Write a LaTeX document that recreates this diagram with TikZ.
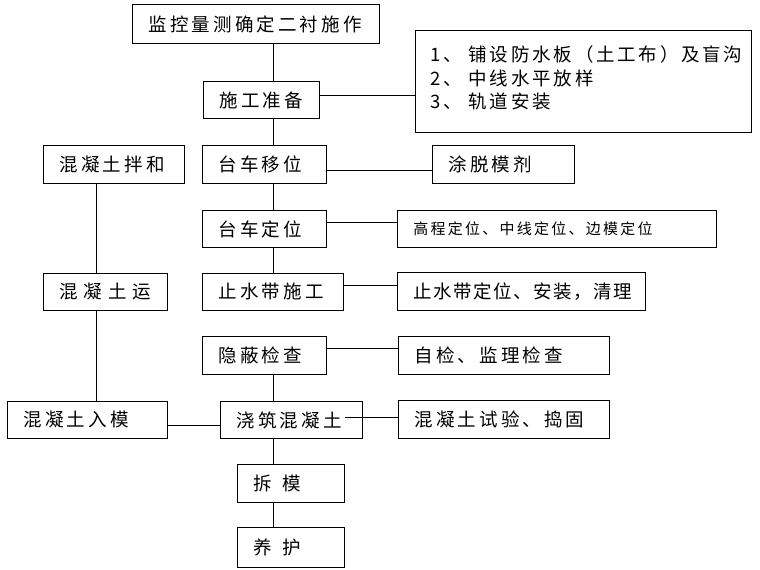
\documentclass[tikz,border=0pt]{standalone}
\usepackage{fontspec}
\newfontfamily\cjk[LetterSpace=17]{Noto Sans CJK SC}
\newfontfamily\cjkl[LetterSpace=15]{Noto Sans CJK SC}
\newfontfamily\cjkn[LetterSpace=8]{Noto Sans CJK SC}
\newfontfamily\cjks[LetterSpace=15]{Noto Sans CJK SC}
\begin{document}
\begin{tikzpicture}[x=1pt,y=-1pt,
  box/.style={draw, line width=0.9pt, anchor=north west, inner xsep=16pt, inner ysep=0pt, align=left,
    font=\cjk\fontsize{18.5}{23}\selectfont},
  narrowbox/.style={box, font=\cjkn\fontsize{18.5}{23}\selectfont},
  smallbox/.style={box, font=\cjks\fontsize{15}{18}\selectfont},
  conn/.style={line width=0.8pt}]
\fill[white] (0,0) rectangle (760,570);
\useasboundingbox (0,0) rectangle (760,570);
% main column
\node[box, minimum width=247pt, minimum height=39pt, text width=215pt] (top) at (132,4) {\mbox{监控量测确定二衬施作}};
\node[box, minimum width=116pt, minimum height=37pt, text width=84pt] (prep) at (203,81) {\mbox{施工准备}};
\node[box, minimum width=124pt, minimum height=38pt, text width=92pt] (tcyw) at (202,145) {\mbox{台车移位}};
\node[box, minimum width=124pt, minimum height=37pt, text width=92pt] (tcdw) at (202,210) {\mbox{台车定位}};
\node[box, minimum width=141pt, minimum height=37pt, text width=109pt] (zsd) at (202,273) {\mbox{止水带施工}};
\node[box, minimum width=124pt, minimum height=38pt, text width=92pt] (yb) at (202,336) {\mbox{隐蔽检查}};
\node[box, minimum width=142pt, minimum height=37pt, text width=110pt] (jz) at (220,401) {\mbox{浇筑混凝土}};
\node[box, minimum width=107pt, minimum height=38pt, text width=75pt] (cm) at (237,464) {\spaceskip=11pt\mbox{拆 模}};
\node[box, minimum width=107pt, minimum height=40pt, text width=75pt] (yh) at (237,527) {\spaceskip=11pt\mbox{养 护}};
% left column
\node[box, minimum width=141pt, minimum height=38pt, text width=109pt] (mix) at (43,145) {\mbox{混凝土拌和}};
\node[box, minimum width=124pt, minimum height=37pt, text width=92pt] (yun) at (43,273) {\spaceskip=6pt\mbox{混 凝 土 运}};
\node[box, minimum width=160pt, minimum height=37pt, text width=128pt] (rm) at (7,401) {\mbox{混凝土入模}};
% right column
\node[draw, line width=0.9pt, anchor=north west, minimum width=336pt, minimum height=102pt, inner sep=0pt] (list) at (415,30) {};
\node[anchor=north west, inner sep=0pt, align=left, font=\cjkl\fontsize{18.5}{23.5}\selectfont] (listtext) at (430,45.5)
  {1、 铺设防水板（土工布）及盲沟\\2、 中线水平放样\\3、 轨道安装};
\node[box, minimum width=142pt, minimum height=38pt, text width=110pt] (tuo) at (432,145) {\mbox{涂脱模剂}};
\node[smallbox, minimum width=319pt, minimum height=37pt, text width=287pt] (gc) at (397,210) {\mbox{高程定位、中线定位、边模定位}};
\node[narrowbox, minimum width=248pt, minimum height=38pt, text width=216pt] (zsdw) at (397,272) {\mbox{止水带定位、安装，清理}};
\node[box, minimum width=211pt, minimum height=38pt, text width=179pt] (zj) at (398,336) {\mbox{自检、监理检查}};
\node[box, minimum width=211pt, minimum height=38pt, text width=179pt] (sy) at (398,400) {\mbox{混凝土试验、捣固}};
% helper coordinates
\coordinate (mx) at (273,0);
\coordinate (lx) at (96,0);
\coordinate (y1) at (0,95);
\coordinate (y2) at (0,170);
\coordinate (y3) at (0,222);
\coordinate (y4) at (0,285);
\coordinate (y5) at (0,348);
\coordinate (y6) at (0,425);
\coordinate (js) at (345,417);
% connectors
\draw[conn] (top.south -| mx) -- (prep.north -| mx);
\draw[conn] (prep.south -| mx) -- (tcyw.north -| mx);
\draw[conn] (tcyw.south -| mx) -- (tcdw.north -| mx);
\draw[conn] (tcdw.south -| mx) -- (zsd.north -| mx);
\draw[conn] (yb.south -| mx) -- (jz.north -| mx);
\draw[conn] (jz.south -| mx) -- (cm.north -| mx);
\draw[conn] (cm.south -| mx) -- (yh.north -| mx);
\draw[conn] (mix.south -| lx) -- (yun.north -| lx);
\draw[conn] (yun.south -| lx) -- (rm.north -| lx);
\draw[conn] (prep.east |- y1) -- (list.west |- y1);
\draw[conn] (tcyw.east |- y2) -- (tuo.west |- y2);
\draw[conn] (tcdw.east |- y3) -- (gc.west |- y3);
\draw[conn] (zsd.east |- y4) -- (zsdw.west |- y4);
\draw[conn] (yb.east |- y5) -- (zj.west |- y5);
\draw[conn] (rm.east |- y6) -- (jz.west |- y6);
\draw[conn] (js) -- (sy.west |- js);
\end{tikzpicture}
\end{document}
